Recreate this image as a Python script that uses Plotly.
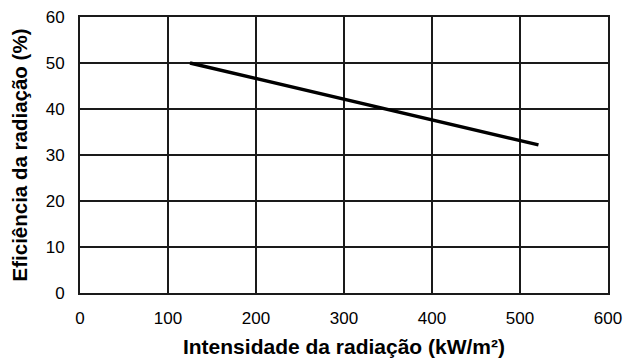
import plotly.graph_objects as go

intensidade = [125, 521]
eficiencia = [50.0, 32.2]
x_ticks = [0, 100, 200, 300, 400, 500, 600]
y_ticks = [0, 10, 20, 30, 40, 50, 60]

fig = go.Figure()
fig.add_trace(go.Scatter(x=intensidade, y=eficiencia, mode="lines",
                         line=dict(color="black", width=3.5), showlegend=False))

font = "Liberation Sans, Arial, sans-serif"
fig.update_layout(
    width=624, height=358,
    margin=dict(l=80, r=16, t=17, b=65, autoexpand=False),
    paper_bgcolor="white", plot_bgcolor="white",
    font=dict(family=font, size=17, color="black"),
)
fig.update_xaxes(range=[0, 600], tickvals=x_ticks, showgrid=True, gridcolor="#1a1a1a", gridwidth=1.7,
                 showline=True, linecolor="#1a1a1a", linewidth=1.7, mirror=True, zeroline=False,
                 ticks="", ticklabelstandoff=9, automargin=False,
                 title=dict(text="<b>Intensidade da radiação (kW/m²)</b>", font=dict(size=21), standoff=12))
fig.update_yaxes(range=[0, 60], tickvals=y_ticks, showgrid=True, gridcolor="#1a1a1a", gridwidth=1.7,
                 showline=True, linecolor="#1a1a1a", linewidth=1.7, mirror=True, zeroline=False,
                 ticks="", ticklabelstandoff=10, automargin=False,
                 title=dict(text="<b>Eficiência da radiação (%)</b>", font=dict(size=20.5), standoff=13))
fig.write_html("out.html")
